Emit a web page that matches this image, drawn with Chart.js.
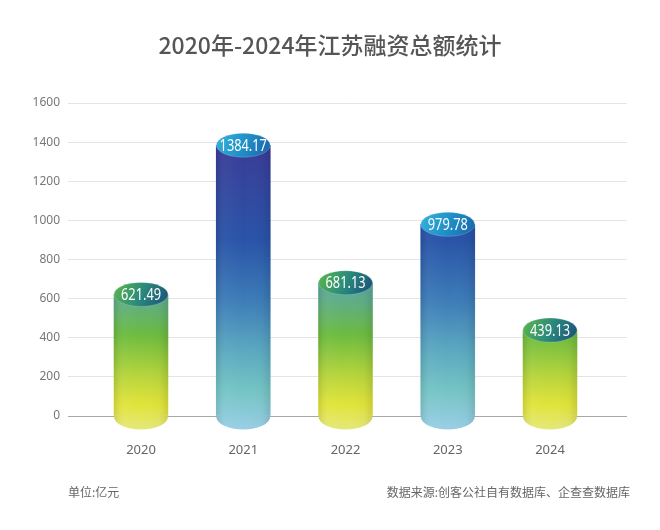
<!DOCTYPE html>
<html>
<head>
<meta charset="utf-8">
<script src="https://cdn.jsdelivr.net/npm/chart.js@4.4.1/dist/chart.umd.min.js"></script>
<style>
  html, body { margin: 0; padding: 0; background: #ffffff; }
  #wrap { position: relative; width: 660px; height: 530px; overflow: hidden; }
  #c { position: absolute; left: 0; top: 0; }
  .t { position: absolute; white-space: nowrap; font-family: "Noto Sans CJK SC", "Noto Sans", sans-serif; }
  #title { left: 0; width: 660px; top: 28px; text-align: center; font-size: 23px; font-weight: 500; color: #555555; line-height: 32px; }
  #unit { left: 68px; top: 484px; font-size: 12px; color: #666666; line-height: 16px; }
  #src { right: 30px; top: 484px; font-size: 12px; color: #666666; line-height: 16px; }
</style>
</head>
<body>
<div id="wrap">
  <canvas id="c" width="660" height="530"></canvas>
  <div class="t" id="title">2020年-2024年江苏融资总额统计</div>
  <div class="t" id="unit">单位:亿元</div>
  <div class="t" id="src">数据来源:创客公社自有数据库、企查查数据库</div>
</div>
<script>
// ---- data ----
const years = ['2020', '2021', '2022', '2023', '2024'];
const amounts = [621.49, 1384.17, 681.13, 979.78, 439.13];
const yMin = 0;
const yMax = 1600;
const yStep = 200;
const schemes = ['green', 'blue', 'green', 'blue', 'green'];

// ---- styles ----
const BODY_STOPS = {
  green: { fromVal: 680, stops: [[0, '#58a6a0'], [0.12, '#5fad88'], [0.35, '#6cbb40'], [0.63, '#b6d53c'], [0.83, '#e2e43a'], [1, '#e4e87c']] },
  blue:  { fromVal: 1400, stops: [[0, '#3b3b96'], [0.34, '#2954a8'], [0.55, '#3d7cb8'], [0.72, '#5aa8c0'], [0.86, '#74c4c4'], [1, '#9acfe6']] }
};
const TOP_STOPS = {
  green: [[0, '#5cb848'], [0.5, '#2a8a7c'], [1, '#1a4e7a']],
  blue:  [[0, '#34b4dc'], [0.5, '#2090c8'], [1, '#1a64aa']]
};
const RY = 12;

function bodyGradient(chart, i) {
  const y = chart.scales.y;
  const c = chart.ctx;
  const s = BODY_STOPS[schemes[i]];
  const top = y.getPixelForValue(s.fromVal);
  const bottom = y.getPixelForValue(0) + RY + 2;
  const g = c.createLinearGradient(0, top, 0, bottom);
  s.stops.forEach(([o, col]) => g.addColorStop(o, col));
  return g;
}

function shade(c, x, w) {
  const g = c.createLinearGradient(x - w / 2, 0, x + w / 2, 0);
  g.addColorStop(0, 'rgba(0,0,0,0.10)');
  g.addColorStop(0.18, 'rgba(255,255,255,0.03)');
  g.addColorStop(0.5, 'rgba(255,255,255,0.0)');
  g.addColorStop(0.85, 'rgba(0,0,0,0.02)');
  g.addColorStop(1, 'rgba(0,0,0,0.10)');
  return g;
}

const cylinderPlugin = {
  id: 'cylinder',
  beforeDatasetsDraw(chart) {
    const c = chart.ctx;
    const meta = chart.getDatasetMeta(0);
    meta.data.forEach((bar, i) => {
      const p = bar.getProps(['x', 'y', 'base', 'width'], true);
      c.save();
      c.beginPath();
      c.ellipse(p.x, p.base + 1, p.width / 2, RY + 1, 0, 0, Math.PI * 2);
      c.fillStyle = bodyGradient(chart, i);
      c.fill();
      c.fillStyle = shade(c, p.x, p.width);
      c.fill();
      c.restore();
    });
  },
  afterDatasetsDraw(chart) {
    const c = chart.ctx;
    const meta = chart.getDatasetMeta(0);
    meta.data.forEach((bar, i) => {
      const p = bar.getProps(['x', 'y', 'base', 'width'], true);
      const rx = p.width / 2;
      c.save();
      c.fillStyle = shade(c, p.x, p.width);
      c.fillRect(p.x - rx, p.y, p.width, p.base - p.y);
      const g = c.createLinearGradient(p.x - rx, p.y - RY, p.x + rx, p.y + RY);
      TOP_STOPS[schemes[i]].forEach(([o, col]) => g.addColorStop(o, col));
      c.beginPath();
      c.ellipse(p.x, p.y, rx, RY, 0, 0, Math.PI * 2);
      c.fillStyle = g;
      c.fill();
      c.lineWidth = 1;
      c.strokeStyle = 'rgba(255,255,255,0.18)';
      c.stroke();
      // value label (slightly condensed)
      c.translate(p.x, p.y + 1);
      c.scale(0.8, 1);
      c.fillStyle = '#ffffff';
      c.font = '16px "Noto Sans", sans-serif';
      c.textAlign = 'center';
      c.textBaseline = 'middle';
      c.fillText(amounts[i].toFixed(2), 0, 0);
      c.restore();
    });
  }
};

new Chart(document.getElementById('c'), {
  type: 'bar',
  data: {
    datasets: [{
      data: years.map((yr, i) => ({ x: i, y: amounts[i] })),
      backgroundColor: (ctx) => {
        const chart = ctx.chart;
        if (!chart.chartArea) return 'rgba(0,0,0,0)';
        return bodyGradient(chart, ctx.dataIndex);
      },
      borderWidth: 0,
      barThickness: 54
    }]
  },
  options: {
    responsive: false,
    animation: false,
    layout: { padding: { top: 103, right: 33, bottom: 0, left: 0 } },
    plugins: { legend: { display: false }, tooltip: { enabled: false }, title: { display: false } },
    scales: {
      x: {
        type: 'linear',
        offset: false,
        min: -0.714,
        max: 4.753,
        afterBuildTicks: (s) => { s.ticks = years.map((_, i) => ({ value: i })); },
        afterFit: (s) => { s.height = 114; },
        grid: { display: false, drawTicks: false },
        border: { display: false },
        ticks: {
          autoSkip: false,
          maxRotation: 0,
          padding: 26,
          color: '#666666',
          font: { family: '"Noto Sans", sans-serif', size: 13 },
          callback: (v) => years[v] !== undefined ? years[v] : ''
        }
      },
      y: {
        min: yMin,
        max: yMax,
        afterFit: (s) => { s.width = 68; },
        grid: {
          drawTicks: false,
          color: (ctx) => ctx.tick && ctx.tick.value === 0 ? '#a8a8a8' : '#e4e4e4',
          lineWidth: 1
        },
        border: { display: false },
        ticks: {
          stepSize: yStep,
          padding: 8,
          color: '#777777',
          font: { family: '"Noto Sans", sans-serif', size: 12 },
          callback: (v) => String(v)
        }
      }
    }
  },
  plugins: [cylinderPlugin]
});
</script>
</body>
</html>
